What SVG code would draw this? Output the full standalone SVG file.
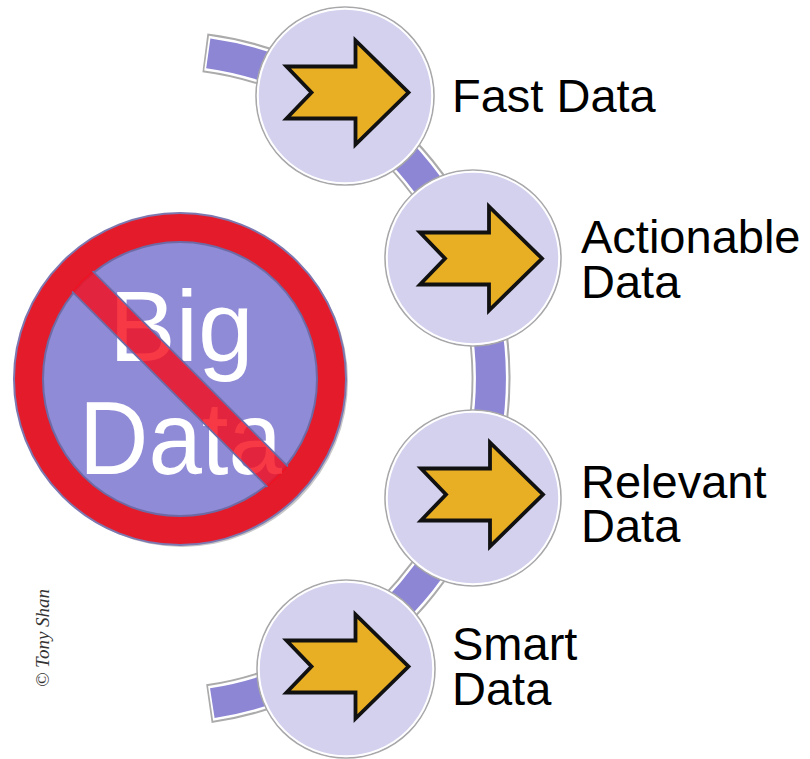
<svg xmlns="http://www.w3.org/2000/svg" width="810" height="759" viewBox="0 0 810 759">
<style>
.lbl{font-family:"Liberation Sans",Arial,sans-serif;font-size:47px;fill:#000}
.node-bg{fill:#d3d1ee;stroke:#a8a8a8;stroke-width:1.6}
.node-in{fill:none;stroke:#fff;stroke-width:2}
.arrow{fill:#e8ae24;stroke:#111;stroke-width:3.8;stroke-linejoin:miter}
.band{fill:none;stroke-linecap:butt}
.big{font-family:"Liberation Sans",Arial,sans-serif;fill:#fff}
</style>
<defs>
<path id="arr" d="M -61,-26 L 8,-26 L 8,-52 L 61,0 L 8,52 L 8,26 L -61,26 L -36,0 Z"/>
<clipPath id="inner"><circle cx="180" cy="379" r="139"/></clipPath>
</defs>
<rect width="810" height="759" fill="#fff"/>
<g id="connectors">
<path class="band" d="M 204.9,52.8 A 328.4 328.4 0 0 1 208.9,703.6" stroke="#ababab" stroke-width="39"/>
<path class="band" d="M 206.6,53.1 A 328.4 328.4 0 0 1 210.6,703.4" stroke="#ffffff" stroke-width="35"/>
<path class="band" d="M 208.3,53.3 A 328.4 328.4 0 0 1 212.3,703.1" stroke="#8c86d4" stroke-width="30"/>
</g>
<g id="node-fast">
<circle class="node-bg" cx="345" cy="96" r="89"/>
<circle class="node-in" cx="345" cy="96" r="87.2"/>
<use href="#arr" class="arrow" transform="translate(347.5,92.5)"/>
<text class="lbl" x="452" y="112">Fast Data</text>
</g>
<g id="node-actionable">
<circle class="node-bg" cx="473" cy="258" r="88"/>
<circle class="node-in" cx="473" cy="258" r="86.2"/>
<use href="#arr" class="arrow" transform="translate(481,258.5)"/>
<text class="lbl" x="581" y="253">Actionable</text>
<text class="lbl" x="581" y="298">Data</text>
</g>
<g id="node-relevant">
<circle class="node-bg" cx="473" cy="498" r="88"/>
<circle class="node-in" cx="473" cy="498" r="86.2"/>
<use href="#arr" class="arrow" transform="translate(482,494.5)"/>
<text class="lbl" x="581" y="498">Relevant</text>
<text class="lbl" x="581" y="542">Data</text>
</g>
<g id="node-smart">
<circle class="node-bg" cx="346" cy="669" r="89"/>
<circle class="node-in" cx="346" cy="669" r="87.2"/>
<use href="#arr" class="arrow" transform="translate(347.5,666.5)"/>
<text class="lbl" x="452" y="660">Smart</text>
<text class="lbl" x="452" y="705">Data</text>
</g>
<g id="big-data">
<circle cx="182" cy="381" r="166" fill="#c8c8c8"/>
<circle cx="180" cy="379" r="166" fill="#e41b2b" stroke="#7c78b0" stroke-width="2"/>
<circle cx="180" cy="379" r="137" fill="#8f8bd6" stroke="#6e6aa6" stroke-width="2"/>
<text class="big" x="109" y="361" font-size="100">Big</text>
<text class="big" x="79" y="474" font-size="104" textLength="203" lengthAdjust="spacingAndGlyphs">Data</text>
<g clip-path="url(#inner)" transform="rotate(45 180 379)">
<rect x="30" y="364.5" width="300" height="29" fill="#f50d1c" fill-opacity="0.82"/>
<line x1="30" y1="364.5" x2="330" y2="364.5" stroke="#6e6aa6" stroke-width="1.8"/>
<line x1="30" y1="393.5" x2="330" y2="393.5" stroke="#6e6aa6" stroke-width="1.8"/>
</g>
</g>
<g id="copyright">
<text transform="translate(49,638) rotate(-90)" text-anchor="middle" font-family="Liberation Serif,serif" font-style="italic" font-size="19" fill="#333">© Tony Shan</text>
</g>
</svg>
